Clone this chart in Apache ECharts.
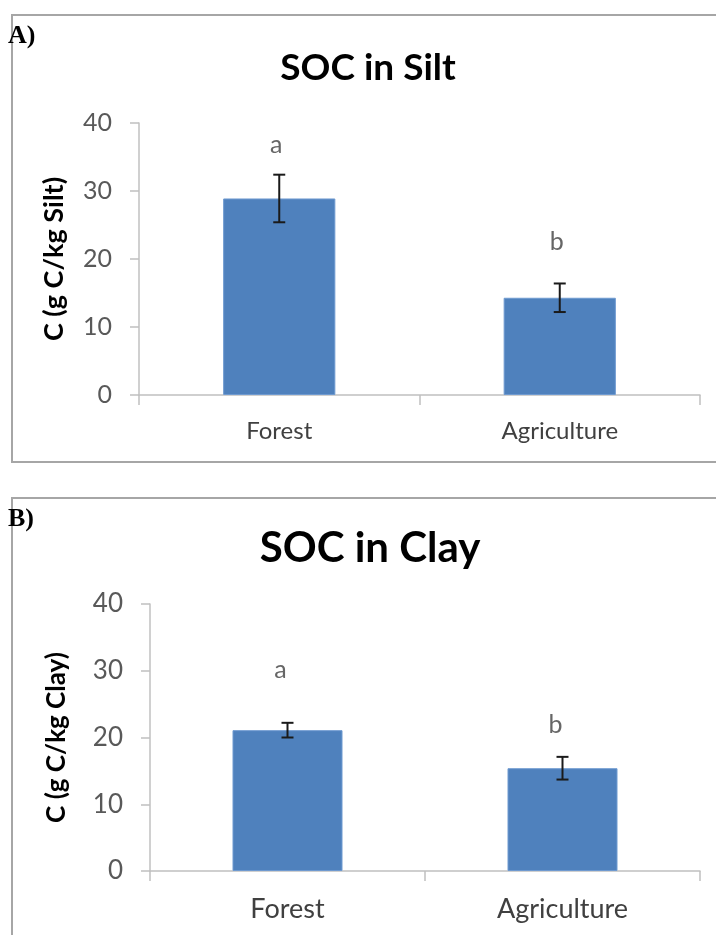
<!DOCTYPE html>
<html><head><meta charset="utf-8">
<script src="https://cdn.jsdelivr.net/npm/echarts@6/dist/echarts.min.js"></script>
<style>html,body{margin:0;padding:0;background:#fff}#c{width:716px;height:935px}</style>
</head><body><div id="c"></div>
<script>
var categories = ['Forest', 'Agriculture'];
var siltMeans = [28.9, 14.3];
var siltErrors = [3.5, 2.1];
var siltLetters = ['a', 'b'];
var siltLetterY = [36.8, 22.5];
var clayMeans = [21.1, 15.4];
var clayErrors = [1.1, 1.7];
var clayLetters = ['a', 'b'];
var clayLetterY = [30.1, 21.9];
var yTicks = [0, 10, 20, 30, 40];

var FONT = 'Lato, "Open Sans", sans-serif';
var chart = echarts.init(document.getElementById('c'));

function errRender(params, api) {
  var x = api.value(0), m = api.value(1), e = api.value(2);
  var hi = api.coord([x, m + e]), lo = api.coord([x, m - e]);
  var w = 6;
  var st = {stroke: '#1a1a1a', lineWidth: 2};
  return {type: 'group', children: [
    {type: 'line', shape: {x1: hi[0], y1: hi[1], x2: lo[0], y2: lo[1]}, style: st},
    {type: 'line', shape: {x1: hi[0] - w, y1: hi[1], x2: hi[0] + w, y2: hi[1]}, style: st},
    {type: 'line', shape: {x1: lo[0] - w, y1: lo[1], x2: lo[0] + w, y2: lo[1]}, style: st}
  ]};
}

function mkX(idx, fs, margin) {
  return {type: 'category', gridIndex: idx, data: categories,
    axisLine: {lineStyle: {color: '#c0c0c0', width: 1.5}},
    axisTick: {show: true, length: 10, lineStyle: {color: '#c0c0c0', width: 1.5}},
    axisLabel: {color: '#404040', fontSize: fs, fontFamily: FONT, margin: margin}};
}
function mkY(idx, name, fs, nfs, gap) {
  return {type: 'value', gridIndex: idx, min: yTicks[0], max: yTicks[yTicks.length - 1], interval: 10,
    name: name, nameLocation: 'middle', nameGap: gap, nameRotate: 90,
    nameTextStyle: {color: '#000', fontSize: nfs, fontWeight: 'bold', fontFamily: FONT},
    axisLine: {show: true, lineStyle: {color: '#c0c0c0', width: 1.5}},
    axisTick: {show: true, length: 9, lineStyle: {color: '#c0c0c0', width: 1.5}},
    splitLine: {show: false},
    axisLabel: {color: '#595959', fontSize: fs, fontFamily: FONT, margin: 27}};
}

function letterData(ys, letters) {
  return ys.map(function (v, i) { return {value: [i, v], name: letters[i]}; });
}

var option = {
  animation: false,
  backgroundColor: '#fff',
  grid: [
    {left: 139, right: 16, top: 123, height: 272},
    {left: 150, right: 16, top: 604, height: 267}
  ],
  xAxis: [mkX(0, 24, 24), mkX(1, 27, 25)],
  yAxis: [mkY(0, 'C (g C/kg Silt)', 25, 27, 71), mkY(1, 'C (g C/kg Clay)', 26, 26, 80)],
  graphic: [
    {type: 'rect', shape: {x: 12, y: 15, width: 710, height: 447}, style: {fill: 'none', stroke: '#a6a6a6', lineWidth: 2}, z: -1},
    {type: 'rect', shape: {x: 12, y: 498, width: 710, height: 450}, style: {fill: 'none', stroke: '#a6a6a6', lineWidth: 2}, z: -1},
    {type: 'text', x: 8, y: 36, style: {text: 'A)', fill: '#000', font: 'bold 26px "Liberation Serif", serif', textVerticalAlign: 'middle'}},
    {type: 'text', x: 8, y: 519, style: {text: 'B)', fill: '#000', font: 'bold 26px "Liberation Serif", serif', textVerticalAlign: 'middle'}},
    {type: 'text', x: 368, y: 68, style: {text: 'SOC in Silt', fill: '#000', font: 'bold 37px ' + FONT, textAlign: 'center', textVerticalAlign: 'middle'}},
    {type: 'text', x: 370, y: 548, style: {text: 'SOC in Clay', fill: '#000', font: 'bold 42px ' + FONT, textAlign: 'center', textVerticalAlign: 'middle'}}
  ],
  series: [
    {type: 'bar', xAxisIndex: 0, yAxisIndex: 0, data: siltMeans, barWidth: '40%',
      itemStyle: {color: '#4f81bd', borderColor: '#6f9ad0', borderWidth: 1}},
    {type: 'custom', xAxisIndex: 0, yAxisIndex: 0, renderItem: errRender, z: 5,
      data: siltMeans.map(function (m, i) { return [i, m, siltErrors[i]]; })},
    {type: 'scatter', xAxisIndex: 0, yAxisIndex: 0, symbolSize: 0, data: letterData(siltLetterY, siltLetters),
      label: {show: true, position: 'inside', formatter: '{b}', color: '#404040', fontSize: 25, fontFamily: FONT, offset: [-3, 0]}},
    {type: 'bar', xAxisIndex: 1, yAxisIndex: 1, data: clayMeans, barWidth: '40%',
      itemStyle: {color: '#4f81bd', borderColor: '#6f9ad0', borderWidth: 1}},
    {type: 'custom', xAxisIndex: 1, yAxisIndex: 1, renderItem: errRender, z: 5,
      data: clayMeans.map(function (m, i) { return [i, m, clayErrors[i]]; })},
    {type: 'scatter', xAxisIndex: 1, yAxisIndex: 1, symbolSize: 0, data: letterData(clayLetterY, clayLetters),
      label: {show: true, position: 'inside', formatter: '{b}', color: '#404040', fontSize: 25, fontFamily: FONT, offset: [-7, 0]}}
  ]
};
chart.setOption(option);
</script>
</body></html>
